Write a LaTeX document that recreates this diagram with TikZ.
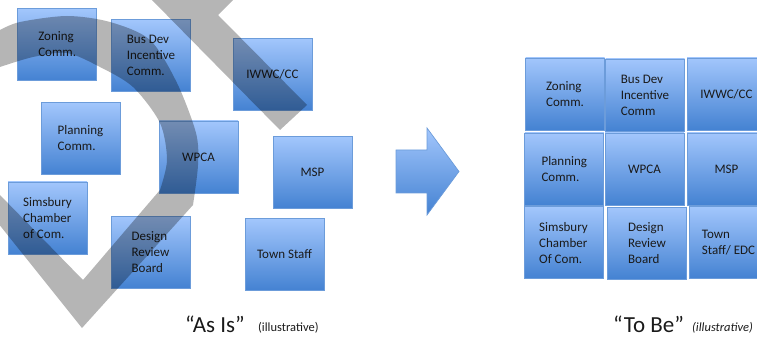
\documentclass[tikz,border=0pt]{standalone}
\usepackage{fontspec}
\setmainfont{Carlito}
\usetikzlibrary{positioning}
\definecolor{boxtop}{HTML}{A2C6FC}
\definecolor{boxbot}{HTML}{4482D2}
\definecolor{boxedge}{HTML}{6C9CDA}
\definecolor{markgray}{HTML}{B5B5B5}
\definecolor{inktext}{HTML}{1A1A1A}

\begin{document}
\begin{tikzpicture}[
  x=1pt, y=-1pt,
  orgbox/.style={draw=boxedge, line width=0.7pt, top color=boxtop, bottom color=boxbot,
    minimum width=79pt, minimum height=72pt, inner sep=0pt, text=inktext,
    font=\fontsize{13}{16}\selectfont, align=left},
  biglbl/.style={font=\fontsize{23}{26}\selectfont, text=inktext, anchor=base west, inner sep=0pt},
  smalllbl/.style={font=\fontsize{12.5}{14}\selectfont, text=inktext, anchor=base west, inner sep=0pt},
]

% Canvas
\useasboundingbox (0,0) rectangle (757,339);
\clip (0,0) rectangle (757,339);

% === Left: "As Is" boxes ===
\node[orgbox] (zoningA)   at (57.2,44.5)  {Zoning\\Comm.};
\node[orgbox] (busdevA)   at (151,55.5)   {Bus Dev\\Incentive\\Comm.};
\node[orgbox] (iwwcA)     at (272.5,74.5) {IWWC/CC};
\node[orgbox] (planningA) at (80.5,138.5) {Planning\\Comm.};
\node[orgbox] (wpcaA)     at (198.5,157)  {WPCA};
\node[orgbox] (mspA)      at (312.5,172.5){MSP};
\node[orgbox] (chamberA)  at (47.5,218)   {Simsbury\\Chamber\\of Com.};
\node[orgbox] (designA)   at (150.5,252)  {Design\\Review\\Board};
\node[orgbox] (staffA)    at (284.5,254.5){Town Staff};

% Gray overlay mark
\begin{scope}[blend mode=multiply]
  \fill[markgray] (-2,30) -- plot[smooth] coordinates {(0,30) (20,22) (67,16) (110,22)
      (150,40) (177,83) (196,133) (198,165) (193,205)}
    -- (82,328) -- (-2,223) -- (-2,193) -- (83,280)
    -- plot[smooth] coordinates {(160,190) (167,160) (160,123) (133,87) (100,67)
      (67,53) (33,57) (0,67)}
    -- (-2,67) -- cycle;
  \fill[markgray] (150,-2) -- (280,130) -- (307,105) -- (218,15) -- (235,-2) -- cycle;
\end{scope}

% === Middle arrow ===
\draw[draw=boxedge, line width=0.7pt, top color=boxtop, bottom color=boxbot]
  (396,150) -- (427,150) -- (427,128) -- (459,171.5) -- (427,215) -- (427,193)
  -- (396,193) -- cycle;

% === Right: "To Be" grid ===
\node[orgbox] (zoningB)   at (565,94)     {Zoning\\Comm.};
\node[orgbox] (busdevB)   at (645,95)     {Bus Dev\\Incentive\\Comm};
\node[orgbox] (iwwcB)     at (726.5,94)   {IWWC/CC};
\node[orgbox] (planningB) at (564.3,169)  {Planning\\Comm.};
\node[orgbox] (wpcaB)     at (644.5,169)  {WPCA};
\node[orgbox] (mspB)      at (726.5,169)  {MSP};
\node[orgbox] (chamberB)  at (563.5,242.7){Simsbury\\Chamber\\Of Com.};
\node[orgbox] (designB)   at (647,243)    {Design\\Review\\Board};
\node[orgbox] (staffB)    at (728.5,242.5){Town\\Staff/ EDC};

% === Captions ===
\node[biglbl] (asis) at (185,332) {“As Is”};
\node[smalllbl] (asisnote) at (258,331) {(illustrative)};
\node[biglbl] (tobe) at (613,332) {“To Be”};
\node[smalllbl, font=\fontsize{12.5}{14}\selectfont\itshape] (tobenote) at (692,331) {(illustrative)};

\end{tikzpicture}
\end{document}
